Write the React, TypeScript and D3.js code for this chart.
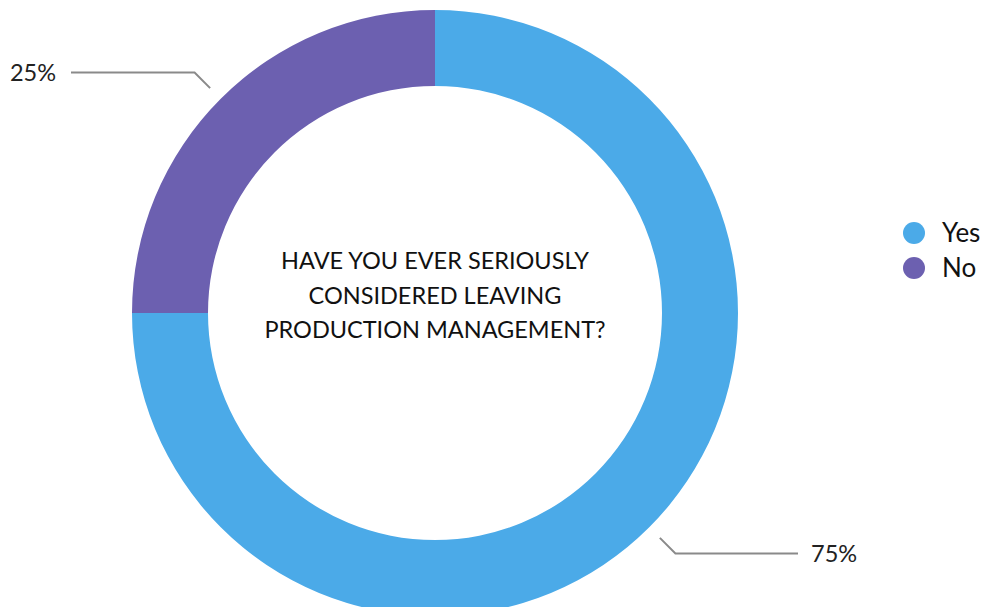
import React from "react";
import * as d3 from "d3";

const categories = ["Yes", "No"];
const values = [75, 25];
const colors = ["#4BAAE8", "#6C60B0"];
const percentLabels = ["75%", "25%"];
const titleLines = ["HAVE YOU EVER SERIOUSLY", "CONSIDERED LEAVING", "PRODUCTION MANAGEMENT?"];

const W = 998;
const H = 615;
const FONT = "Lato, 'Open Sans', 'DejaVu Sans', sans-serif";

export default function App() {
  const cx = 435;
  const cy = 313;
  const rOuter = 303;
  const rInner = 227;
  const pie = d3.pie<number>().sort(null).value((d) => d);
  const arcs = pie(values);
  const arcGen = d3.arc<d3.PieArcDatum<number>>().innerRadius(rInner).outerRadius(rOuter);

  const legendY = d3.scalePoint<string>().domain(categories).range([233, 268]);

  return (
    <div style={{ margin: -8 }}>
      <svg width={W} height={H} style={{ display: "block", background: "#fff" }}>
        <g transform={`translate(${cx},${cy})`}>
          {arcs.map((a, i) => (
            <path key={i} d={arcGen(a) || ""} fill={colors[i]} />
          ))}
          {arcs.map((a, i) => {
            const mid = (a.startAngle + a.endAngle) / 2;
            const sx = Math.sin(mid);
            const sy = -Math.cos(mid);
            const r1 = 318;
            const r2 = 340;
            const p1 = [sx * r1, sy * r1];
            const p2 = [sx * r2, sy * r2];
            const right = sx > 0;
            const endX = right ? 798 - cx : 71 - cx;
            const textX = right ? 811 - cx : 56 - cx;
            return (
              <g key={"l" + i}>
                <polyline
                  points={`${p1[0]},${p1[1]} ${p2[0]},${p2[1]} ${endX},${p2[1]}`}
                  fill="none"
                  stroke="#8a8a8a"
                  strokeWidth={2}
                />
                <text
                  x={textX}
                  y={p2[1]}
                  dy="0.35em"
                  textAnchor={right ? "start" : "end"}
                  fontFamily={FONT}
                  fontSize={23.5}
                  fill="#222"
                >
                  {percentLabels[i]}
                </text>
              </g>
            );
          })}
          {titleLines.map((t, i) => (
            <text
              key={"t" + i}
              x={0}
              y={-52 + i * 34.5}
              dy="0.35em"
              textAnchor="middle"
              fontFamily={FONT}
              fontSize={23.5}
              fill="#111"
            >
              {t}
            </text>
          ))}
        </g>
        {categories.map((c, i) => (
          <g key={"lg" + i}>
            <circle cx={914} cy={legendY(c)!} r={11} fill={colors[i]} />
            <text x={942} y={legendY(c)!} dy="0.35em" fontFamily={FONT} fontSize={26} fill="#111">
              {c}
            </text>
          </g>
        ))}
      </svg>
    </div>
  );
}
